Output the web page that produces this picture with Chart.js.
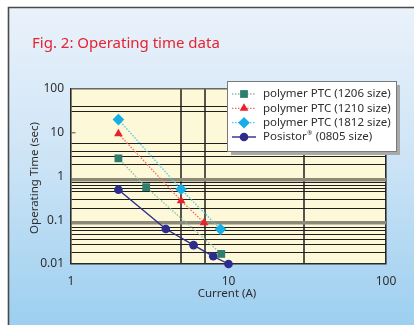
<!DOCTYPE html>
<html>
<head>
<meta charset="utf-8">
<script src="https://cdn.jsdelivr.net/npm/chart.js@4"></script>
<style>
  html, body { margin: 0; padding: 0; background: #ffffff; }
  #wrap { position: relative; width: 414px; height: 325px; }
  canvas { display: block; }
</style>
</head>
<body>
<div id="wrap"><canvas id="c" width="414" height="325"></canvas></div>
<script>
// Operating time versus current for the four protection parts
const seriesNames = ['polymer PTC (1206 size)', 'polymer PTC (1210 size)', 'polymer PTC (1812 size)', 'Posistor'];

const current1206 = [2, 3, 9];
const time1206    = [2.6, 0.57, 0.017];

const current1210 = [2, 5, 7];
const time1210    = [9.5, 0.28, 0.088];

const current1812 = [2, 5, 8.9];
const time1812    = [20, 0.51, 0.062];

const current0805 = [2, 4, 6, 8, 10];
const time0805    = [0.5, 0.063, 0.027, 0.015, 0.01];

// Axis labels and the ruled grid of the chart paper
const xTickLabels = [1, 10, 100];
const yTickLabels = [0.01, 0.1, 1, 10, 100];
const xRuleLines  = [5, 7.1, 30];
const yRuleLines  = [38.8, 30.3, 5.7, 3.8, 2.9, 1.9, 0.71, 0.62, 0.52, 0.45, 0.29, 0.19,
                     0.068, 0.059, 0.048, 0.037, 0.028, 0.0186];
const yHeavyRules = [0.86, 0.086];

const FONT = "'Noto Sans', 'DejaVu Sans', sans-serif";
const TEXT = '#2e2e2e';

function pairs(xs, ys) { return xs.map((x, i) => ({ x: x, y: ys[i] })); }

const datasets = [
  { label: seriesNames[0], data: pairs(current1206, time1206),
    borderColor: '#8fbfa6', borderDash: [1.5, 1.5], borderWidth: 1.3,
    pointStyle: 'rect', pointRadius: 5.5, pointBackgroundColor: '#2f7d6c', pointBorderColor: '#2f7d6c' },
  { label: seriesNames[1], data: pairs(current1210, time1210),
    borderColor: '#f06a6a', borderDash: [1.5, 1.5], borderWidth: 1.3,
    pointStyle: 'triangle', pointRadius: 5, pointBackgroundColor: '#e8212b', pointBorderColor: '#e8212b' },
  { label: seriesNames[2], data: pairs(current1812, time1812),
    borderColor: '#4cc4f0', borderDash: [1.5, 1.5], borderWidth: 1.3,
    pointStyle: 'rectRot', pointRadius: 5.8, pointBackgroundColor: '#17aee8', pointBorderColor: '#17aee8' },
  { label: seriesNames[3], data: pairs(current0805, time0805),
    borderColor: '#2c2c8c', borderWidth: 1.4,
    pointStyle: 'circle', pointRadius: 4.3, pointBackgroundColor: '#2c2c8c', pointBorderColor: '#2c2c8c' }
];
datasets.forEach(d => { d.fill = false; d.tension = 0; d.clip = false; d.pointBorderWidth = 0; d.pointHoverRadius = d.pointRadius; });

// Panel background, frame, title and plot paper
const paperPlugin = {
  id: 'paper',
  beforeDraw(chart) {
    const ctx = chart.ctx, a = chart.chartArea;
    ctx.save();
    ctx.fillStyle = '#ffffff';
    ctx.fillRect(0, 0, chart.width, chart.height);
    const g = ctx.createLinearGradient(0, 8, 0, chart.height);
    g.addColorStop(0, '#eaf2fb');
    g.addColorStop(0.45, '#cfe5f6');
    g.addColorStop(1, '#9dcff0');
    ctx.fillStyle = g;
    ctx.fillRect(9, 8, chart.width - 9, chart.height - 8);
    ctx.strokeStyle = '#4a4a4a';
    ctx.lineWidth = 1.6;
    ctx.beginPath();
    ctx.moveTo(8.5, chart.height);
    ctx.lineTo(8.5, 7.5);
    ctx.lineTo(chart.width, 7.5);
    ctx.stroke();

    ctx.fillStyle = '#e8222e';
    ctx.font = '15px ' + FONT;
    ctx.textBaseline = 'alphabetic';
    ctx.textAlign = 'left';
    ctx.fillText('Fig. 2: Operating time data', 32, 48);

    ctx.fillStyle = '#fdf8d8';
    ctx.fillRect(a.left, a.top, a.right - a.left, a.bottom - a.top);
    ctx.restore();
  },
  afterDraw(chart) {
    const ctx = chart.ctx, a = chart.chartArea;
    const ys = chart.scales.y;
    ctx.save();
    // short tick on the left edge at 10 s
    const y10 = ys.getPixelForValue(10);
    ctx.strokeStyle = '#6d6a60';
    ctx.lineWidth = 1.2;
    ctx.beginPath();
    ctx.moveTo(a.left, y10);
    ctx.lineTo(a.left + 4.5, y10);
    ctx.stroke();

    // axis titles
    ctx.fillStyle = TEXT;
    ctx.font = '11.5px ' + FONT;
    ctx.textAlign = 'center';
    ctx.textBaseline = 'middle';
    ctx.fillText('Current (A)', 227, 294);
    ctx.translate(35, 178);
    ctx.rotate(-Math.PI / 2);
    ctx.fillText('Operating Time (sec)', 0, 0);
    ctx.restore();

    // legend
    ctx.save();
    const bx = 227, by = 81, bw = 169, bh = 70;
    ctx.fillStyle = '#a9a9a9';
    ctx.fillRect(bx + 4, by + 4, bw, bh);
    ctx.fillStyle = '#ffffff';
    ctx.fillRect(bx, by, bw, bh);
    ctx.strokeStyle = '#7a7a7a';
    ctx.lineWidth = 1;
    ctx.strokeRect(bx + 0.5, by + 0.5, bw, bh);
    const rowY = [94, 108.3, 122.7, 137];
    chart.data.datasets.forEach((d, i) => {
      const y = rowY[i];
      ctx.save();
      ctx.strokeStyle = d.borderColor;
      ctx.lineWidth = d.borderWidth;
      ctx.setLineDash(d.borderDash || []);
      ctx.beginPath();
      ctx.moveTo(232, y);
      ctx.lineTo(256, y);
      ctx.stroke();
      ctx.restore();
      ctx.fillStyle = d.pointBackgroundColor;
      ctx.strokeStyle = d.pointBackgroundColor;
      Chart.helpers.drawPoint(ctx, { pointStyle: d.pointStyle, radius: d.pointRadius, rotation: 0, borderWidth: 0 }, 244, y);
      ctx.fillStyle = TEXT;
      ctx.font = '11.5px ' + FONT;
      ctx.textAlign = 'left';
      ctx.textBaseline = 'middle';
      let tx = 263;
      ctx.fillText(d.label, tx, y);
      if (i === 3) {
        tx += ctx.measureText(d.label).width;
        ctx.font = '6px ' + FONT;
        ctx.fillText('\u00AE', tx + 0.5, y - 4);
        tx += ctx.measureText('\u00AE').width + 1;
        ctx.font = '11.5px ' + FONT;
        ctx.fillText(' (0805 size)', tx, y);
      }
    });
    ctx.restore();
  }
};

function fmt(v) { return String(v); }

new Chart(document.getElementById('c'), {
  type: 'line',
  data: { datasets: datasets },
  plugins: [paperPlugin],
  options: {
    responsive: false,
    animation: false,
    devicePixelRatio: 1,
    layout: { padding: { left: 0, top: 89, right: 28, bottom: 0 } },
    plugins: { legend: { display: false }, title: { display: false }, tooltip: { enabled: false } },
    scales: {
      x: {
        type: 'logarithmic', min: 1, max: 100,
        afterFit(s) { s.height = 61; },
        afterBuildTicks(s) {
          s.ticks = [...xTickLabels, ...xRuleLines].sort((p, q) => p - q).map(v => ({ value: v }));
        },
        border: { display: true, color: '#2a2a2a', width: 1.6 },
        grid: {
          drawTicks: false,
          color(c) {
            const v = c.tick && c.tick.value;
            if (xRuleLines.includes(v)) return '#57544b';
            if (v === 100) return '#2a2a2a';
            return 'rgba(0,0,0,0)';
          },
          lineWidth(c) {
            const v = c.tick && c.tick.value;
            return xRuleLines.includes(v) ? 2 : 1.6;
          }
        },
        ticks: {
          autoSkip: false, maxRotation: 0, padding: 10, color: TEXT,
          font: { family: FONT, size: 12 },
          callback(v) { return xTickLabels.includes(v) ? fmt(v) : ''; }
        }
      },
      y: {
        type: 'logarithmic', min: 0.01, max: 100,
        afterFit(s) { s.width = 71; },
        afterBuildTicks(s) {
          s.ticks = [...yTickLabels, ...yRuleLines, ...yHeavyRules].sort((p, q) => p - q).map(v => ({ value: v }));
        },
        border: { display: true, color: '#2a2a2a', width: 1.6 },
        grid: {
          drawTicks: false,
          color(c) {
            const v = c.tick && c.tick.value;
            if (yHeavyRules.includes(v)) return '#8d8979';
            if (yRuleLines.includes(v)) return '#1f1f1f';
            if (v === 100) return '#6b675c';
            return 'rgba(0,0,0,0)';
          },
          lineWidth(c) {
            const v = c.tick && c.tick.value;
            if (yHeavyRules.includes(v)) return 3.4;
            if (v === 100) return 1.6;
            return 1.1;
          }
        },
        ticks: {
          autoSkip: false, padding: 7, color: TEXT,
          font: { family: FONT, size: 12 },
          callback(v) { return yTickLabels.includes(v) ? fmt(v) : ''; }
        }
      }
    }
  }
});
</script>
</body>
</html>
